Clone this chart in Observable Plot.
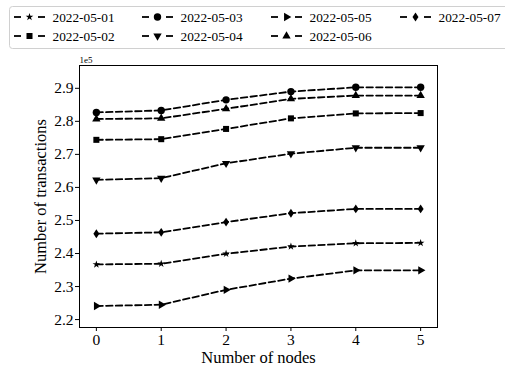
<!DOCTYPE html>
<html><head><meta charset="utf-8">
<script src="https://cdn.jsdelivr.net/npm/d3@7"></script>
<script src="https://cdn.jsdelivr.net/npm/@observablehq/plot@0.6"></script>
<style>
html,body{margin:0;padding:0;background:#fff;overflow:hidden;width:505px;height:369px;}
#legend{display:block;}
#legend text{font-family:"Liberation Serif","Times New Roman",serif;}
#chart svg{display:block;}
#chart svg text{font-family:"Liberation Serif","Times New Roman",serif;}
</style></head><body>
<svg id="legend" width="505" height="50"></svg>
<div id="chart"></div>
<script>
const nodes = [0, 1, 2, 3, 4, 5];
const dates = ["2022-05-01", "2022-05-02", "2022-05-03", "2022-05-04", "2022-05-05", "2022-05-06", "2022-05-07"];
const s0501 = [236700, 236900, 239900, 242100, 243100, 243200];
const s0502 = [274400, 274600, 277700, 280900, 282400, 282500];
const s0503 = [282700, 283300, 286500, 289000, 290300, 290300];
const s0504 = [262300, 262800, 267300, 270200, 272000, 272000];
const s0505 = [224100, 224500, 229000, 232400, 234900, 234900];
const s0506 = [280700, 280900, 283800, 286800, 287800, 287800];
const s0507 = [246000, 246400, 249500, 252200, 253500, 253500];
const series = [s0501, s0502, s0503, s0504, s0505, s0506, s0507];
const yTicks = [220000, 230000, 240000, 250000, 260000, 270000, 280000, 290000];
const xLabel = "Number of nodes";
const yLabel = "Number of transactions";
const offsetText = "1e5";

const thinDiamond = {draw(ctx, size) {
  const s = Math.sqrt(size), h = s * 0.72, w = s * 0.48;
  ctx.moveTo(0, -h); ctx.lineTo(w, 0); ctx.lineTo(0, h); ctx.lineTo(-w, 0); ctx.closePath();
}};
const markerStyle = [
  {symbol: "star", d3sym: d3.symbolStar, rotate: 0, r: 2.4},
  {symbol: "square", d3sym: d3.symbolSquare, rotate: 0, r: 3.4},
  {symbol: "circle", d3sym: d3.symbolCircle, rotate: 0, r: 3.7},
  {symbol: "triangle", d3sym: d3.symbolTriangle, rotate: 180, r: 3.1},
  {symbol: "triangle", d3sym: d3.symbolTriangle, rotate: 90, r: 3.1},
  {symbol: "triangle", d3sym: d3.symbolTriangle, rotate: 0, r: 3.1},
  {symbol: thinDiamond, d3sym: thinDiamond, rotate: 0, r: 3.5}
];

const rows = dates.flatMap((d, i) => nodes.map((n, j) => ({date: d, node: n, value: series[i][j]})));

const marks = [
  Plot.frame({stroke: "black", strokeWidth: 1}),
  Plot.axisX(nodes, {tickSize: 4, tickPadding: 2, fontSize: 15.5, label: null}),
  Plot.axisY(yTicks, {tickSize: 4, tickPadding: 2, fontSize: 15.5, label: null, tickFormat: d => (d / 1e5).toFixed(1)}),
  Plot.text([offsetText], {frameAnchor: "top-left", dy: -3, textAnchor: "start", lineAnchor: "bottom", fontSize: 9}),
  Plot.text([yLabel], {frameAnchor: "left", dx: -39, rotate: -90, fontSize: 16.5, textAnchor: "middle", lineAnchor: "middle"}),
  Plot.text([xLabel], {frameAnchor: "bottom", dy: 30, fontSize: 16.5, textAnchor: "middle", lineAnchor: "middle"})
];
dates.forEach((d, i) => {
  const data = rows.filter(r => r.date === d);
  const m = markerStyle[i];
  marks.push(Plot.line(data, {x: "node", y: "value", stroke: "black", strokeWidth: 1.8, strokeDasharray: "6.5,3.2"}));
  marks.push(Plot.dot(data, {x: "node", y: "value", symbol: m.symbol, r: m.r, rotate: m.rotate, fill: "black", stroke: "none"}));
});

const chart = Plot.plot({
  width: 505, height: 319,
  marginLeft: 79, marginRight: 68, marginTop: 15, marginBottom: 42,
  x: {domain: [-0.26, 5.26]},
  y: {domain: [217600, 296900]},
  style: {fontFamily: "'Liberation Serif', 'Times New Roman', serif", color: "black", background: "white", overflow: "visible"},
  marks
});
document.getElementById("chart").appendChild(chart);

// legend
const lg = d3.select("#legend");
lg.append("rect").attr("x", 9.5).attr("y", 6.5).attr("width", 520).attr("height", 42).attr("rx", 3)
  .attr("fill", "white").attr("stroke", "#d0d0d0");
const order = [0, 2, 4, 6, 1, 3, 5];
const colX = [14, 142, 271, 400];
const rowY = [17, 36];
order.forEach((si, k) => {
  const col = k < 4 ? k : k - 4, row = k < 4 ? 0 : 1;
  const x0 = colX[col], y0 = rowY[row];
  const g = lg.append("g");
  g.append("line").attr("x1", x0).attr("x2", x0 + 7).attr("y1", y0).attr("y2", y0).attr("stroke", "black").attr("stroke-width", 1.8);
  g.append("line").attr("x1", x0 + 24).attr("x2", x0 + 31).attr("y1", y0).attr("y2", y0).attr("stroke", "black").attr("stroke-width", 1.8);
  const m = markerStyle[si];
  g.append("path").attr("d", d3.symbol(m.d3sym, Math.PI * m.r * m.r)())
    .attr("transform", `translate(${x0 + 15.5},${y0}) rotate(${m.rotate})`).attr("fill", "black");
  g.append("text").attr("x", x0 + 38.5).attr("y", y0).attr("dy", "0.35em")
    .attr("font-size", 13.3).attr("fill", "black").text(dates[si]);
});
</script>
</body></html>
